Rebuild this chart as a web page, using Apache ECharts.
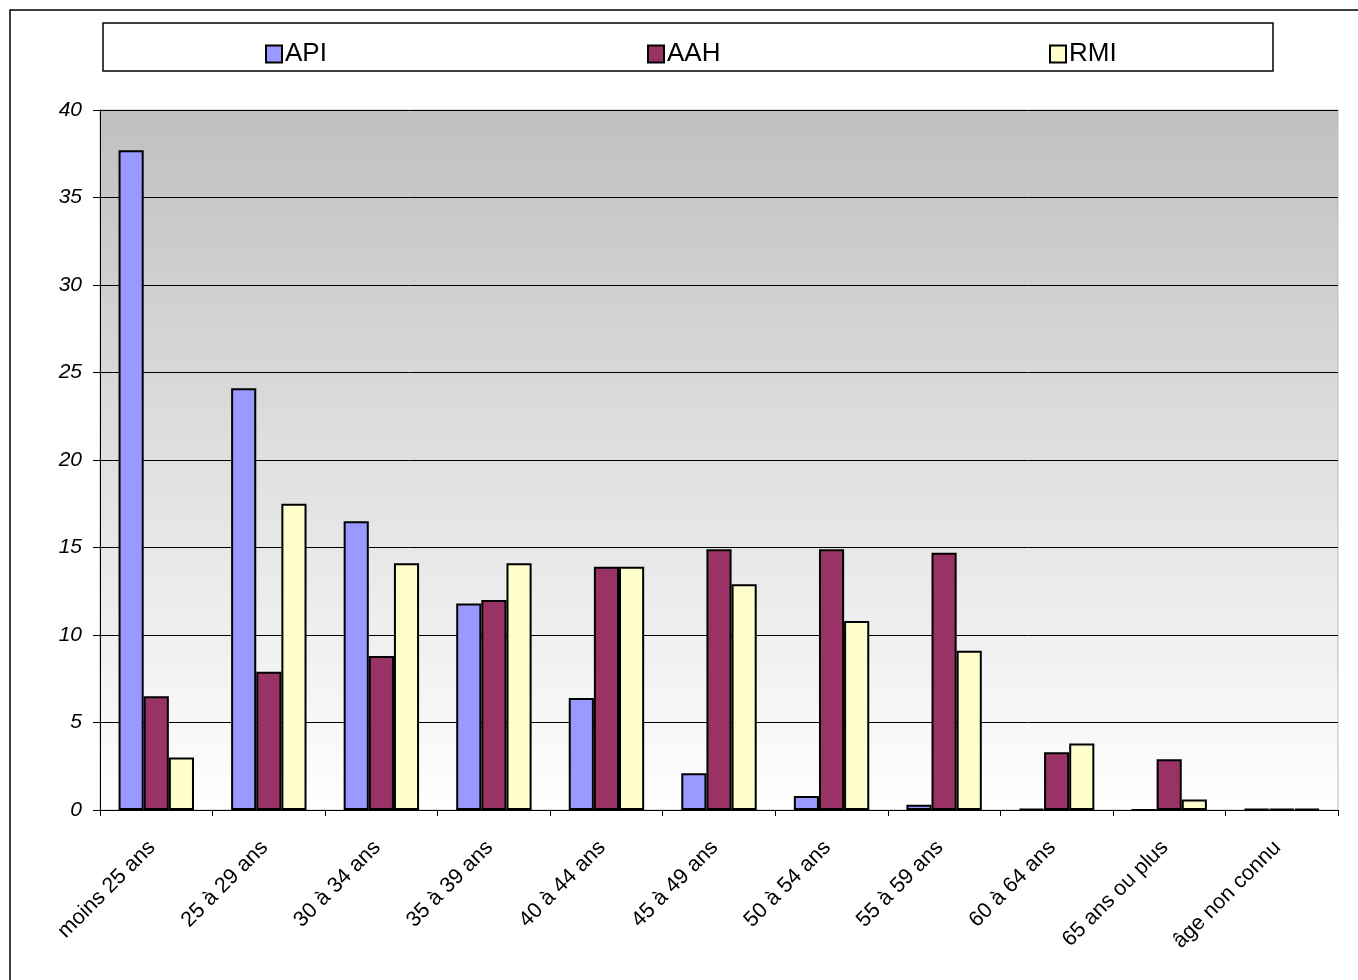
<!DOCTYPE html>
<html>
<head>
<meta charset="utf-8">
<script src="https://cdn.jsdelivr.net/npm/echarts@6/dist/echarts.min.js"></script>
<style>html,body{margin:0;padding:0;background:#fff}#c{width:1358px;height:980px}</style>
</head>
<body>
<div id="c"></div>
<script>
const categories = ['moins 25 ans','25 à 29 ans','30 à 34 ans','35 à 39 ans','40 à 44 ans','45 à 49 ans','50 à 54 ans','55 à 59 ans','60 à 64 ans','65 ans ou plus','âge non connu'];
const apiValues = [37.7, 24.1, 16.5, 11.8, 6.4, 2.1, 0.8, 0.3, 0.05, 0, 0.05];
const aahValues = [6.5, 7.9, 8.8, 12.0, 13.9, 14.9, 14.9, 14.7, 3.3, 2.9, 0.05];
const rmiValues = [3.0, 17.5, 14.1, 14.1, 13.9, 12.9, 10.8, 9.1, 3.8, 0.6, 0.05];
const yTicks = [0, 5, 10, 15, 20, 25, 30, 35, 40];

const FONT = 'Liberation Sans, Arial, sans-serif';
const chart = echarts.init(document.getElementById('c'), null, {renderer: 'canvas'});
function legend(name, left) {
  return {
    data: [{name: name, icon: 'rect'}], left: left, top: 36, itemWidth: 16, itemHeight: 17, itemGap: 0,
    textStyle: {fontFamily: FONT, fontSize: 26, color: '#000', padding: [0, 0, 0, -2]},
    itemStyle: {borderColor: '#000', borderWidth: 2}
  };
}
const barStyle = c => ({color: c, borderColor: '#000', borderWidth: 2});
chart.setOption({
  animation: false,
  backgroundColor: '#fff',
  graphic: [
    {type: 'rect', shape: {x: 10, y: 10, width: 1400, height: 1000}, style: {fill: 'none', stroke: '#000', lineWidth: 1.5}, z: -1},
    {type: 'rect', shape: {x: 103, y: 23, width: 1170, height: 48}, style: {fill: '#fff', stroke: '#000', lineWidth: 1.5}, z: -1}
  ],
  legend: [legend('API', 260), legend('AAH', 642), legend('RMI', 1044)],
  grid: {
    left: 100, top: 110, right: 20, bottom: 170, show: true,
    borderColor: '#bbb', borderWidth: 1,
    backgroundColor: new echarts.graphic.LinearGradient(0, 0, 0, 1, [
      {offset: 0, color: '#c0c0c0'}, {offset: 1, color: '#ffffff'}
    ])
  },
  xAxis: {
    type: 'category', data: categories,
    axisLine: {lineStyle: {color: '#000', width: 1}},
    axisTick: {show: true, length: 6, lineStyle: {color: '#000'}},
    axisLabel: {rotate: 45, fontFamily: FONT, fontSize: 21.5, color: '#000', margin: 30, interval: 0,
      padding: [0, 6, 0, 0]}
  },
  yAxis: {
    type: 'value', min: 0, max: 40, interval: 5,
    axisLine: {show: true, lineStyle: {color: '#000', width: 1}},
    axisTick: {show: true, length: 7, lineStyle: {color: '#000'}},
    axisLabel: {fontFamily: FONT, fontSize: 21, fontStyle: 'italic', color: '#000', margin: 18,
      formatter: v => yTicks.includes(v) ? String(v) : ''},
    splitLine: {show: true, lineStyle: {color: '#000', width: 1}}
  },
  series: [
    {name: 'API', type: 'bar', data: apiValues, barGap: '0%', barCategoryGap: '33%', itemStyle: barStyle('#9999ff')},
    {name: 'AAH', type: 'bar', data: aahValues, barGap: '0%', barCategoryGap: '33%', itemStyle: barStyle('#993366')},
    {name: 'RMI', type: 'bar', data: rmiValues, barGap: '0%', barCategoryGap: '33%', itemStyle: barStyle('#ffffcc')}
  ]
});
</script>
</body>
</html>
